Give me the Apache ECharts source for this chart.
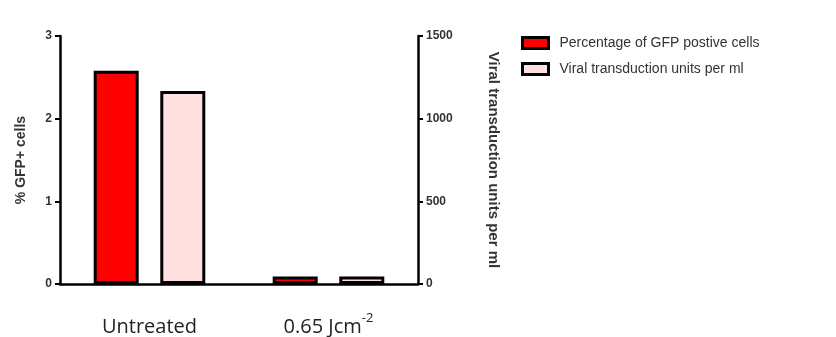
<!DOCTYPE html>
<html><head><meta charset="utf-8">
<script src="https://cdn.jsdelivr.net/npm/echarts@6/dist/echarts.min.js"></script>
<style>html,body{margin:0;padding:0;background:#fff}#c{width:836px;height:337px}</style>
</head><body><div id="c"></div>
<script>
const categories = ['Untreated', '0.65 Jcm-2'];
const gfpPercent = [2.58, 0.09];
const viralUnits = [1168, 46];
const leftTicks = [0, 3, 1];   // min, max, interval
const rightTicks = [0, 1500, 500];

const chart = echarts.init(document.getElementById('c'));
const axisLabelStyle = {color: '#333', fontWeight: 'bold', fontFamily: 'Liberation Sans, Arial', fontSize: 12, formatter: v => String(v)};
chart.setOption({
  animation: false,
  grid: {left: 60, right: 418, top: 36, bottom: 53},
  legend: {
    left: 516, top: 31, orient: 'vertical', itemGap: 12,
    itemWidth: 26, itemHeight: 11, icon: 'rect',
    textStyle: {fontFamily: 'Liberation Sans, Arial', fontSize: 14, color: '#333', padding: [0,0,0,6]},
    data: [
      {name: 'Percentage of GFP postive cells', itemStyle: {borderColor: '#000', borderWidth: 3}},
      {name: 'Viral transduction units per ml', itemStyle: {borderColor: '#000', borderWidth: 3}}
    ]
  },
  xAxis: {
    type: 'category', data: categories,
    axisLine: {lineStyle: {color: '#000', width: 2.5}},
    axisTick: {alignWithLabel: true, length: 5, lineStyle: {color: '#000', width: 2}},
    axisLabel: {
      interval: 0, margin: 28,
      formatter: v => v === '0.65 Jcm-2' ? '{n|0.65 Jcm}{sup|-2}' : '{n|' + v + '}',
      rich: {
        n: {fontSize: 20, lineHeight: 30, color: '#222', fontFamily: 'Open Sans, Liberation Sans'},
        sup: {fontSize: 13, lineHeight: 30, color: '#222', fontFamily: 'Open Sans, Liberation Sans', verticalAlign: 'top'}
      }
    }
  },
  yAxis: [
    {
      type: 'value', min: leftTicks[0], max: leftTicks[1], interval: leftTicks[2],
      name: '% GFP+ cells', nameLocation: 'middle', nameGap: 32, nameRotate: 90,
      nameTextStyle: {fontWeight: 'bold', fontSize: 14, color: '#333', fontFamily: 'Liberation Sans, Arial'},
      axisLine: {show: true, lineStyle: {color: '#000', width: 2.5}},
      axisTick: {show: true, length: 5, lineStyle: {color: '#000', width: 2}},
      axisLabel: Object.assign({margin: 8}, axisLabelStyle),
      splitLine: {show: false}
    },
    {
      type: 'value', min: rightTicks[0], max: rightTicks[1], interval: rightTicks[2], position: 'right',
      name: 'Viral transduction units per ml', nameLocation: 'middle', nameGap: 68, nameRotate: -90,
      nameTextStyle: {fontWeight: 'bold', fontSize: 15, color: '#333', fontFamily: 'Liberation Sans, Arial'},
      axisLine: {show: true, lineStyle: {color: '#000', width: 2.5}},
      axisTick: {show: true, length: 5, lineStyle: {color: '#000', width: 2}},
      axisLabel: Object.assign({margin: 8}, axisLabelStyle),
      splitLine: {show: false}
    }
  ],
  series: [
    {
      name: 'Percentage of GFP postive cells', type: 'bar', yAxisIndex: 0, data: gfpPercent,
      barWidth: 45, barGap: '48%',
      itemStyle: {color: '#ff0000', borderColor: '#000', borderWidth: 3}
    },
    {
      name: 'Viral transduction units per ml', type: 'bar', yAxisIndex: 1, data: viralUnits,
      barWidth: 45, barGap: '48%',
      itemStyle: {color: '#ffe0e0', borderColor: '#000', borderWidth: 3}
    }
  ]
});
</script></body></html>
